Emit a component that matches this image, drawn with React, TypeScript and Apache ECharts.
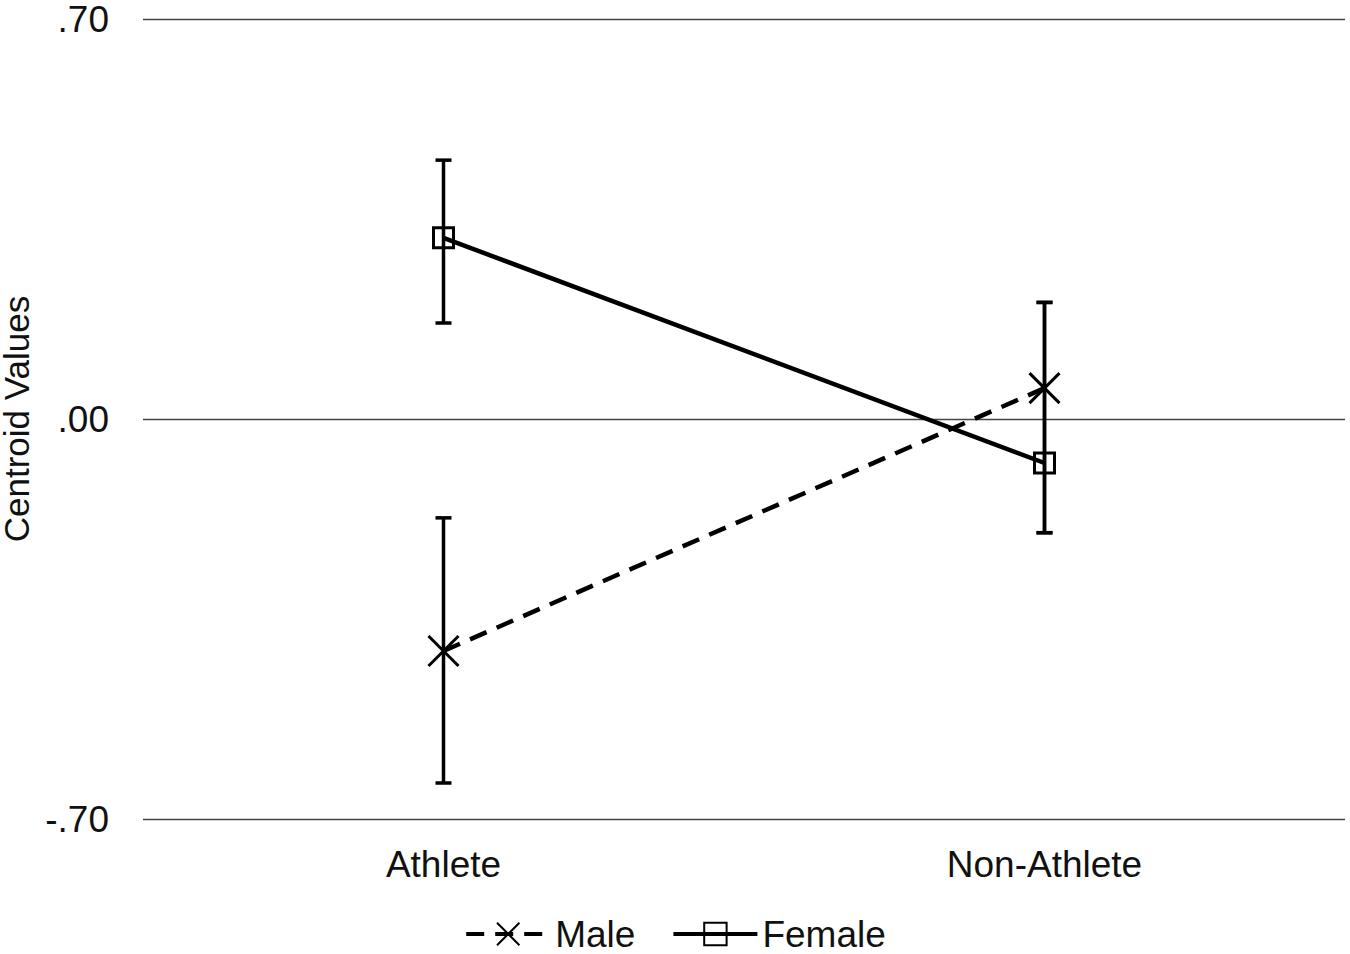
import React, { useEffect, useRef } from "react";
import * as echarts from "echarts";

const categories = ["Athlete", "Non-Athlete"];
const maleValues = [-0.406, 0.054];
const maleLow = [-0.637, -0.199];
const maleHigh = [-0.173, 0.204];
const femaleValues = [0.317, -0.077];
const femaleLow = [0.168, -0.199];
const femaleHigh = [0.453, 0.204];
const yTicks = [-0.7, 0, 0.7];

const FONT = "'Liberation Sans', Arial, sans-serif";
const FS = 37;

function fmt(v: number): string {
  const s = v.toFixed(2);
  return s.replace("0.", ".");
}

function errorSeries(low: number[], high: number[]) {
  return {
    type: "custom",
    silent: true,
    z: 1,
    data: categories.map((_, i) => [i, low[i], high[i]]),
    encode: { x: 0, y: [1, 2] },
    renderItem: (params: any, api: any) => {
      const x = api.value(0);
      const lo = api.coord([x, api.value(1)]);
      const hi = api.coord([x, api.value(2)]);
      const cap = 8;
      const st = { stroke: "#000", lineWidth: 3.5 };
      return {
        type: "group",
        children: [
          { type: "line", shape: { x1: lo[0], y1: lo[1], x2: hi[0], y2: hi[1] }, style: st },
          { type: "line", shape: { x1: lo[0] - cap, y1: lo[1], x2: lo[0] + cap, y2: lo[1] }, style: st },
          { type: "line", shape: { x1: hi[0] - cap, y1: hi[1], x2: hi[0] + cap, y2: hi[1] }, style: st },
        ],
      };
    },
  };
}

export default function App() {
  const ref = useRef<HTMLDivElement>(null);
  useEffect(() => {
    const chart = echarts.init(ref.current!, null, { renderer: "svg" });
    chart.setOption({
      animation: false,
      backgroundColor: "#fff",
      textStyle: { fontFamily: FONT },
      grid: { left: 143, right: 5, top: 19, bottom: 135, containLabel: false, outerBoundsMode: "none" },
      legend: {
        top: 915,
        left: "center",
        padding: 0,
        itemWidth: 84,
        itemHeight: 28,
        itemGap: 36,
        lineStyle: { width: 4 },
        textStyle: { fontFamily: FONT, fontSize: FS, lineHeight: 38, color: "#111" },
        data: ["Male", "Female"],
      },
      xAxis: {
        type: "category",
        data: categories,
        boundaryGap: true,
        axisLine: { show: false },
        axisTick: { show: false },
        axisLabel: { fontSize: FS, color: "#111", margin: 27, fontFamily: FONT },
      },
      yAxis: {
        type: "value",
        min: yTicks[0],
        max: yTicks[2],
        interval: 0.7,
        name: "Centroid Values",
        nameLocation: "middle",
        nameGap: 104,
        nameTextStyle: { fontSize: 35, lineHeight: 35, color: "#111", fontFamily: FONT },
        axisLine: { show: false },
        axisTick: { show: false },
        axisLabel: { fontSize: FS, color: "#111", margin: 34, fontFamily: FONT, formatter: (v: number) => fmt(v) },
        splitLine: { show: true, lineStyle: { color: "#444", width: 1.3 } },
      },
      series: [
        errorSeries(maleLow, maleHigh),
        errorSeries(femaleLow, femaleHigh),
        {
          name: "Male",
          type: "line",
          z: 3,
          data: maleValues,
          symbol: "path://M0,0L10,10M10,0L0,10",
          symbolSize: 30,
          itemStyle: { color: "transparent", borderColor: "#000", borderWidth: 3 },
          lineStyle: { color: "#000", width: 4.5, type: [18, 11] },
        },
        {
          name: "Female",
          type: "line",
          z: 3,
          data: femaleValues,
          symbol: "rect",
          symbolSize: 20,
          itemStyle: { color: "transparent", borderColor: "#000", borderWidth: 3 },
          lineStyle: { color: "#000", width: 4.5 },
        },
      ],
    });
    return () => chart.dispose();
  }, []);
  return (
    <div
      ref={ref}
      style={{ position: "fixed", left: 0, top: 0, width: 1350, height: 954, background: "#fff" }}
    />
  );
}
